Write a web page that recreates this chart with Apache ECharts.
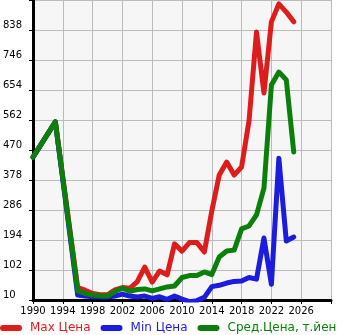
<!DOCTYPE html>
<html>
<head>
<meta charset="utf-8">
<script src="https://cdn.jsdelivr.net/npm/echarts@6/dist/echarts.min.js"></script>
<style>
html,body{margin:0;padding:0;background:#fff;}
#chart{width:345px;height:335px;}
</style>
</head>
<body>
<div id="chart"></div>
<script>
var years = [1990,1993,1996,1997,1998,1999,2000,2001,2002,2003,2004,2005,2006,2007,2008,2009,2010,2011,2012,2013,2014,2015,2016,2017,2018,2019,2020,2021,2022,2023,2024,2025];
var maxPrice = [448,556,48,40,30,26,26,41,48,46,66,111,65,99,87,182,160,186,186,157,283,393,433,393,418,560,832,645,863,918,893,863];
var minPrice = [448,556,25,22,20,19,19,22,28,22,19,22,15,20,12,22,13,5,8,18,51,55,62,67,68,79,74,200,58,445,191,203];
var avgPrice = [448,556,38,30,25,23,22,36,46,37,42,44,38,44,50,53,79,85,85,96,88,142,160,163,228,237,271,353,669,709,685,464];
var seriesNames = ['Max Цена','Min Цена','Сред.Цена, т.йен'];
var seriesColors = ['#dd1c1c','#1c1cdd','#0a800a'];
var xTicks = [1990,1994,1998,2002,2006,2010,2014,2018,2022,2026,2030];
var xLabels = [1990,1994,1998,2002,2006,2010,2014,2018,2022,2026];
var yTicks = [10,102,194,286,378,470,562,654,746,838,930];
var yLabels = [10,102,194,286,378,470,562,654,746,838];

function pairs(vals){ return years.map(function(y,i){ return [y, vals[i]]; }); }
var allVals = [maxPrice, minPrice, avgPrice];

var chart = echarts.init(document.getElementById('chart'), null, {renderer:'canvas'});
var font = 'DejaVu Sans';
chart.setOption({
  animation: false,
  backgroundColor: '#ffffff',
  grid: {left: 31, right: 14, top: 0, bottom: 35, show: true, backgroundColor: '#f6f6f6', borderWidth: 0, z: 0},
  legend: {
    left: 0, top: 322, padding: 0, itemGap: 10, itemWidth: 22, itemHeight: 7, width: 500,
    icon: 'path://M3,0 L19,0 A3,3 0 0 1 19,6 L3,6 A3,3 0 0 1 3,0 Z',
    textStyle: {fontFamily: font, fontSize: 12, padding: [0,0,0,3]},
    data: seriesNames.map(function(n,i){ return {name: n, textStyle: {color: seriesColors[i]}}; })
  },
  xAxis: {
    type: 'value', min: 1990, max: 2030, z: 1,
    axisLine: {show: true, onZero: false, lineStyle: {color: '#000', width: 3}},
    axisTick: {show: true, length: 4, interval: 0, customValues: xTicks, lineStyle: {color: '#000', width: 1}},
    axisLabel: {customValues: xLabels, interval: 0, hideOverlap: false, formatter: function(v){ return String(v); }, fontFamily: font, fontSize: 10, color: '#000', margin: 6},
    splitLine: {show: true, interval: 0, lineStyle: {color: '#bbbbbb', width: 1}}
  },
  yAxis: {
    type: 'value', min: 10, max: 930, z: 1,
    axisLine: {show: true, lineStyle: {color: '#000', width: 3}},
    axisTick: {show: true, length: 4, interval: 0, customValues: yTicks, lineStyle: {color: '#000', width: 1}},
    axisLabel: {customValues: yLabels, interval: 0, hideOverlap: false, formatter: function(v){ return String(v); }, fontFamily: font, fontSize: 10, color: '#000', align: 'left', verticalAlign: 'bottom', margin: 30},
    splitLine: {show: true, interval: 0, lineStyle: {color: '#bbbbbb', width: 1}}
  },
  series: seriesNames.map(function(n,i){
    return {
      name: n, type: 'line', data: pairs(allVals[i]), showSymbol: false, symbol: 'none',
      color: seriesColors[i],
      lineStyle: {width: 5, color: seriesColors[i], cap: 'round', join: 'round'},
      z: 2 + i
    };
  })
});
</script>
</body>
</html>
